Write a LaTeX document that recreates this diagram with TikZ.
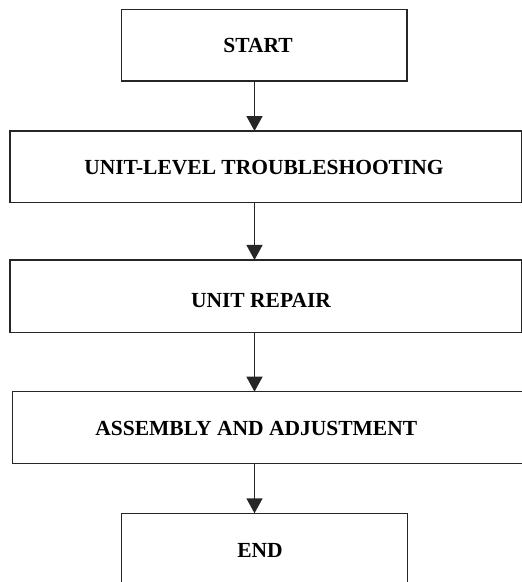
\documentclass[tikz,border=0pt]{standalone}
\usepackage{fontspec}
\setmainfont{Liberation Serif}
\usetikzlibrary{arrows.meta,positioning}

\begin{document}
\begin{tikzpicture}[x=1pt,y=-1pt,
  box/.style={draw=black!85,line width=1.4pt,inner sep=0pt,outer sep=0pt},
  lbl/.style={font=\fontsize{21.5}{26}\selectfont\bfseries,inner sep=0pt,text height=14.3pt,text depth=0pt},
  flow/.style={draw=black!85,line width=1.4pt,-{Triangle[width=16pt,length=15pt]}}]
\useasboundingbox (0,0) rectangle (522,582);
\clip (0,0) rectangle (522,582);
% boxes
\node[box,minimum width=285.3pt,minimum height=71.7pt] (start) at (264.3,45.2) {};
\node[box,minimum width=511.5pt,minimum height=71.7pt] (trouble) at (265.8,166.9) {};
\node[box,minimum width=511.5pt,minimum height=72.7pt] (repair) at (265.8,296.3) {};
\node[box,minimum width=530pt,minimum height=71.6pt] (assembly) at (277.7,427.5) {};
\node[box,minimum width=285.6pt,minimum height=90pt] (finish) at (264.5,558.3) {};
% texts
\node[lbl] (startlbl) at (258,45.7) {START};
\node[lbl] (troublelbl) at (264,167.5) {UNIT-LEVEL TROUBLESHOOTING};
\node[lbl] (repairlbl) at (261,300) {UNIT REPAIR};
\node[lbl] (assemblylbl) at (256.3,428) {ASSEMBLY AND ADJUSTMENT};
\node[lbl] (finishlbl) at (260,550.7) {END};
% arrows
\coordinate (axis) at (254.5,0);
\foreach \a/\b in {start/trouble,trouble/repair,repair/assembly,assembly/finish}
  \draw[flow] (\a.south -| axis) -- (\b.north -| axis);
\end{tikzpicture}
\end{document}
